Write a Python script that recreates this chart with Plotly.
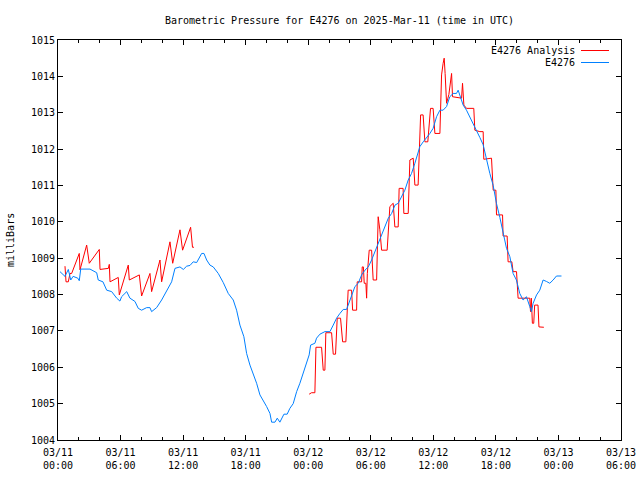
import plotly.graph_objects as go

# Hours since 2025-03-11 00:00 UTC
blue_t = [0.19, 0.67, 0.99, 1.22, 1.45, 1.9, 2.04, 2.18, 3.07, 3.39, 3.71, 3.86, 4.31, 4.67, 5.15, 5.63,
          5.94, 6.10, 6.59, 6.90, 7.38, 7.70, 8.02, 8.50, 8.82, 8.98, 9.46, 9.94, 10.42, 10.90, 11.22,
          11.70, 12.02, 12.34, 12.66, 12.97, 13.3, 13.78, 14.00, 14.26, 14.57, 14.89, 15.37, 15.85,
          16.33, 16.81, 17.13, 17.45, 17.83, 18.09, 18.41, 18.72, 19.05, 19.37, 19.68, 20.01, 20.33,
          20.49, 20.81, 21.03, 21.28, 21.67, 21.98, 22.24, 22.56, 22.89, 23.20, 23.52, 23.84, 24.09,
          24.23, 24.64, 24.80, 25.12, 25.6, 26.08, 26.4, 26.72, 27.04, 27.36, 27.68, 27.84, 28.16,
          28.48, 28.80, 29.12, 29.44, 29.76, 30.08, 30.4, 30.72, 31.04, 31.36, 31.68, 32.0, 32.32,
          32.63, 32.95, 33.27, 33.59, 33.91, 34.23, 34.54, 34.71, 35.03, 35.35, 35.67, 35.98, 36.31,
          36.63, 36.94, 37.27, 37.58, 37.9, 38.22, 38.38, 38.54, 38.86, 39.18, 39.5, 39.82, 40.14,
          40.46, 40.78, 41.1, 41.42, 41.74, 42.06, 42.38, 42.69, 43.02, 43.34, 43.65, 43.97, 44.29,
          44.61, 44.93, 45.25, 45.41, 45.57, 45.9, 46.21, 46.53, 46.85, 47.17, 47.49, 47.81, 48.29]
blue_p = [1008.63, 1008.50, 1008.69, 1008.40, 1008.50, 1008.45, 1008.38, 1008.70, 1008.70, 1008.66,
          1008.60, 1008.40, 1008.35, 1008.12, 1008.08, 1007.90, 1007.82, 1007.94, 1008.08, 1007.90,
          1007.81, 1007.62, 1007.57, 1007.64, 1007.64, 1007.53, 1007.64, 1007.85, 1008.12, 1008.35,
          1008.72, 1008.76, 1008.69, 1008.78, 1008.80, 1008.90, 1008.88, 1009.13, 1009.13, 1008.95,
          1008.81, 1008.76, 1008.58, 1008.33, 1008.03, 1007.85, 1007.57, 1007.16, 1006.84, 1006.38,
          1006.06, 1005.83, 1005.56, 1005.24, 1005.10, 1004.92, 1004.73, 1004.49, 1004.49, 1004.60,
          1004.49, 1004.71, 1004.71, 1004.87, 1005.00, 1005.33, 1005.56, 1005.83, 1006.11, 1006.34,
          1006.61, 1006.66, 1006.80, 1006.91, 1006.98, 1006.98, 1007.16, 1007.35, 1007.48, 1007.59,
          1007.59, 1007.71, 1007.94, 1008.22, 1008.31, 1008.54, 1008.67, 1008.76, 1008.95, 1009.18,
          1009.36, 1009.64, 1009.86, 1010.10, 1010.23, 1010.46, 1010.51, 1010.69, 1010.87, 1011.15,
          1011.33, 1011.61, 1011.88, 1012.07, 1012.20, 1012.30, 1012.43, 1012.57, 1012.89, 1013.07,
          1013.07, 1013.17, 1013.44, 1013.53, 1013.53, 1013.62, 1013.49, 1013.21, 1013.07, 1012.89,
          1012.71, 1012.52, 1012.32, 1012.12, 1011.70, 1011.33, 1011.00, 1010.50, 1010.12, 1009.73,
          1009.27, 1009.04, 1008.58, 1008.40, 1008.03, 1007.85, 1007.94, 1007.67, 1007.53, 1007.76,
          1007.99, 1008.12, 1008.40, 1008.36, 1008.31, 1008.40, 1008.51, 1008.51]

red1_t = [0.67, 0.77, 0.99, 1.15, 1.31, 2.04, 2.11, 2.75, 3.0, 3.96, 4.03, 4.83, 4.92, 4.99, 5.78, 5.88,
          6.74, 6.84, 7.8, 8.02, 8.82, 8.98, 9.78, 9.94, 10.74, 11.0, 11.7, 11.95, 12.72, 12.9, 13.04]
red1_p = [1008.78, 1008.35, 1008.35, 1008.58, 1008.58, 1009.13, 1008.68, 1009.36, 1008.86, 1009.24,
          1008.69, 1008.72, 1008.83, 1008.35, 1008.47, 1007.99, 1008.81, 1008.40, 1008.54, 1007.96,
          1008.58, 1008.08, 1008.95, 1008.35, 1009.45, 1008.86, 1009.78, 1009.22, 1009.85, 1009.30,
          1009.30]

red2_t = [24.09, 24.32, 24.64, 24.74, 25.28, 25.44, 25.6, 25.69, 26.24, 26.4, 26.62, 26.78, 27.1, 27.3,
          27.61, 27.83, 28.16, 28.26, 28.64, 28.7, 29.12, 29.18, 29.29, 29.37, 29.53, 29.6, 29.67,
          29.85, 30.08, 30.23, 30.56, 30.61, 30.71, 30.87, 31.04, 31.57, 31.67, 31.83, 32.15, 32.31,
          32.63, 32.72, 33.1, 33.17, 33.59, 33.68, 33.75, 34.07, 34.23, 34.54, 34.64, 34.78, 35.02,
          35.19, 35.47, 35.73, 35.98, 36.15, 36.63, 36.69, 36.79, 36.94, 37.04, 37.13, 37.27, 37.49,
          37.75, 37.84, 38.71, 38.8, 38.93, 39.18, 39.88, 39.98, 40.46, 40.78, 40.84, 41.58, 41.74,
          42.0, 42.06, 42.64, 42.69, 43.08, 43.17, 43.53, 43.65, 43.98, 44.13, 45.25, 45.32, 45.4,
          45.5, 45.63, 45.72, 46.04, 46.13, 46.6]
red2_p = [1005.26, 1005.30, 1005.30, 1006.55, 1006.55, 1005.92, 1005.92, 1006.95, 1006.95, 1006.36,
          1006.36, 1007.35, 1007.35, 1006.70, 1006.70, 1008.12, 1008.12, 1007.57, 1007.57, 1008.35,
          1008.35, 1008.76, 1008.76, 1008.31, 1008.31, 1007.90, 1008.58, 1009.22, 1009.22, 1008.40,
          1008.40, 1009.24, 1010.14, 1009.78, 1009.22, 1009.22, 1009.82, 1010.42, 1010.51, 1009.86,
          1009.86, 1010.92, 1010.92, 1010.23, 1010.23, 1010.87, 1011.70, 1011.75, 1011.01, 1011.01,
          1011.97, 1012.94, 1012.94, 1012.20, 1012.20, 1013.12, 1013.12, 1012.43, 1012.43, 1013.17,
          1014.04, 1014.36, 1014.50, 1014.08, 1013.26, 1013.50, 1014.08, 1013.44, 1013.40, 1013.81,
          1013.21, 1013.12, 1013.12, 1012.52, 1012.48, 1012.48, 1011.72, 1011.75, 1010.87, 1010.87,
          1010.19, 1010.19, 1009.61, 1009.61, 1008.90, 1008.90, 1008.63, 1008.63, 1007.90, 1007.90,
          1007.53, 1007.90, 1007.21, 1007.21, 1007.71, 1007.71, 1007.11, 1007.10]

tick_hours = [0, 6, 12, 18, 24, 30, 36, 42, 48, 54]
tick_labels = ["03/11<br>00:00", "03/11<br>06:00", "03/11<br>12:00", "03/11<br>18:00",
               "03/12<br>00:00", "03/12<br>06:00", "03/12<br>12:00", "03/12<br>18:00",
               "03/13<br>00:00", "03/13<br>06:00"]
y_ticks = list(range(1004, 1016))

RED = "#ff0000"
BLUE = "#0080ff"
FONT = "DejaVu Sans Mono"

fig = go.Figure()
fig.add_trace(go.Scatter(x=red1_t + [None] + red2_t, y=red1_p + [None] + red2_p, mode="lines",
                         line=dict(color=RED, width=1), name="E4276 Analysis", connectgaps=False))
fig.add_trace(go.Scatter(x=blue_t, y=blue_p, mode="lines",
                         line=dict(color=BLUE, width=1), name="E4276"))

fig.update_layout(
    width=640, height=480,
    margin=dict(l=58, r=19, t=40, b=40, autoexpand=False),
    paper_bgcolor="white", plot_bgcolor="white",
    showlegend=False,
    font=dict(family=FONT, size=10, color="black"),
    title=dict(text="Barometric Pressure for E4276 on 2025-Mar-11 (time in UTC)",
               x=0.5, xref="paper", y=1 - 20 / 480, yanchor="middle",
               font=dict(family=FONT, size=10, color="black")),
)
fig.update_xaxes(range=[0, 54], tickmode="array", tickvals=tick_hours, ticktext=tick_labels,
                 ticks="inside", ticklen=5, tickcolor="black", showgrid=False, zeroline=False,
                 showline=True, linecolor="black", linewidth=1, mirror="allticks",
                 ticklabelstandoff=3,
                 minor=dict(dtick=2, ticks="inside", ticklen=3, tickcolor="black", showgrid=False),
                 tickfont=dict(family=FONT, size=10))
fig.update_yaxes(range=[1004, 1015], tickmode="array", tickvals=y_ticks,
                 ticks="inside", ticklen=5, tickcolor="black", showgrid=False, zeroline=False,
                 showline=True, linecolor="black", linewidth=1, mirror="allticks",
                 tickfont=dict(family=FONT, size=10))

fig.add_annotation(text="milliBars", xref="paper", yref="paper", x=(10 - 58) / 563, y=0.5,
                   textangle=-90, showarrow=False, xanchor="center", yanchor="middle",
                   font=dict(family=FONT, size=10))

legend_items = [("E4276 Analysis", RED, 50.5), ("E4276", BLUE, 62.5)]
for label, color, ypx in legend_items:
    yp = 1 - (ypx - 40) / 400
    fig.add_annotation(text=label, xref="paper", yref="paper", x=(577 - 58) / 563, y=yp,
                       xanchor="right", yanchor="middle", showarrow=False,
                       font=dict(family=FONT, size=10))
    fig.add_shape(type="line", xref="paper", yref="paper", x0=(581 - 58) / 563, x1=(609 - 58) / 563,
                  y0=yp, y1=yp, line=dict(color=color, width=1))

fig.write_html("out.html", config={"displayModeBar": False},
               post_script="document.body.style.margin='0';")
